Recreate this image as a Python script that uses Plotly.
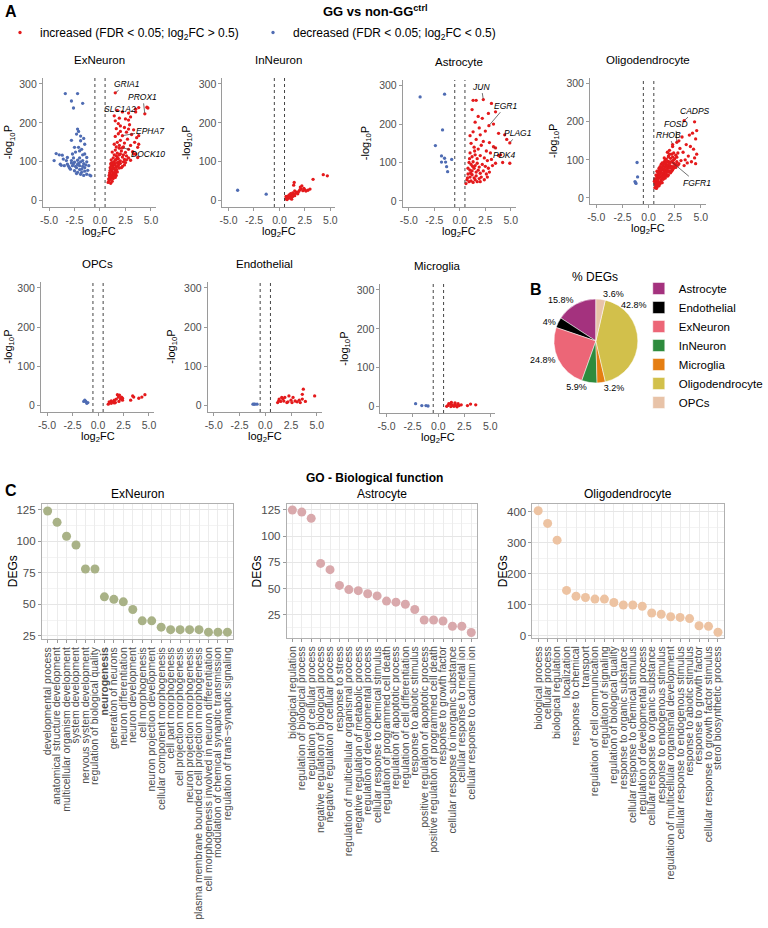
import plotly.graph_objects as go

W, H = 768, 928
FONT = "Arial, Liberation Sans, Helvetica, sans-serif"

# ---------------- DATA ----------------
# Panel A: volcano points (log2FC, -log10P)
ex_up = [(1.05,45),(0.8,47),(1.2,50),(0.9,52),(1.0,55),(1.1,58),(0.95,60),(0.85,56),(1.15,63),(1.3,57),
         (1.25,62),(0.9,65),(1.6,65),(1.3,68),(1.0,70),(1.4,72),(1.7,74),(1.2,75),(1.5,78),(1.0,78),(1.15,80),
         (1.45,66),(1.55,72),(1.05,67),(1.35,85),(1.25,92),(1.45,96),(1.65,80),(1.75,90),(1.85,100),(1.15,98),
         (0.95,72),(1.5,60),(1.2,82),(1.6,106),(1.9,95),(2.1,85),(2.3,100),(2.5,98),(1.7,112),(2.0,120),(2.3,118),
         (1.4,82),(1.9,84),(1.0,85),(1.6,86),(1.2,88),(2.2,88),(1.1,90),(1.8,90),(1.5,92),(2.4,92),(1.3,95),
         (1.05,95),(2.0,96),(1.7,98),(1.35,100),(2.0,102),(1.5,104),(3.0,104),(1.1,105),(2.4,106),(1.8,108),
         (1.3,110),(2.8,110),(2.2,112),(1.6,115),(2.6,115),(1.4,118),(1.9,118),(3.3,120),(3.7,111),(2.6,105),
         (3.5,120),(1.7,122),(2.5,124),(1.2,125),(3.2,126),(2.1,128),(1.5,130),(2.8,132),(1.9,135),(2.2,136),
         (2.3,138),(1.6,138),(3.7,137),(3.0,142),(1.9,142),(1.4,145),(3.8,145),(2.4,148),(1.7,150),(3.4,150),
         (2.0,155),(2.7,158),(3.6,162),(1.5,165),(2.2,167),(3.8,167),(3.1,170),(1.8,172),(2.6,176),(2.0,178),
         (3.3,182),(2.8,184),(1.6,185),(2.4,188),(2.0,192),(2.9,195),(1.8,198),(1.5,205),(2.8,207),(2.5,210),
         (1.9,212),(3.0,215),(1.4,218),(4.4,223),(2.8,225),(2.2,228),(3.5,228),(1.7,232),(3.5,235),(3.8,239),
         (4.7,238),(4.6,240),(1.5,277)]
ex_dn = [(-3.4,275),(-2.2,275),(-2.8,256),(-2.6,238),(-1.7,250),(-2.2,184),(-2.1,178),(-2.3,171),(-2.8,155),
         (-1.9,154),(-4.3,121),(-4.0,118),(-3.7,117),(-4.5,103),(-3.2,111),(-2.7,120),(-2.5,137),(-2.1,137),
         (-2.0,128),(-1.8,132),(-1.5,120),(-2.8,103),(-2.5,99),(-2.2,104),(-1.7,103),(-1.3,111),(-3.9,94),
         (-3.8,91),(-3.5,90),(-3.2,94),(-3.0,85),(-2.7,90),(-2.3,85),(-2.0,90),(-1.8,81),(-1.5,85),(-2.5,77),
         (-2.2,73),(-1.8,73),(-1.3,68),(-1.0,66),(-2.9,81),(-3.3,103),(-3.6,107),(-1.5,145),(-1.9,166),
         (-2.6,95),(-2.4,88),(-2.1,96),(-1.9,100),(-1.6,95),(-1.4,92),(-1.2,78),(-2.0,80),(-2.3,70),(-1.7,88),
         (-1.1,90),(-1.5,76),(-1.9,68),(-2.6,110),(-2.4,125),(-1.6,160),(-2.0,110),(-1.3,100),(-0.9,64),
         (-1.7,118),(-2.2,93),(-1.6,65),(-2.8,97),(-3.1,89)]
in_up = [(0.6,5),(0.7,8),(0.8,6),(0.9,10),(1.0,7),(1.0,12),(1.1,9),(1.2,14),(1.3,11),(1.4,16),(1.5,13),
         (0.75,3),(0.85,12),(1.1,18),(1.3,20),(1.6,19),(1.7,22),(1.5,25),(1.9,24),(2.0,28),(2.1,30),(2.2,38),
         (2.3,26),(2.4,32),(2.5,28),(2.6,25),(2.8,27),(3.0,30),(1.45,47),(1.4,40),(3.3,55),(4.3,67),(4.7,64),
         (1.2,4),(0.95,15),(2.05,35),(1.8,18),(0.65,11)]
in_dn = [(-4.1,27),(-1.3,17)]
as_up = [(1.3,262),(1.6,262),(2.3,264),(3.1,254),(1.2,238),(2.8,228),(3.5,232),(1.8,220),(2.2,215),(1.5,205),
         (2.85,196),(3.3,200),(1.9,190),(2.5,182),(1.3,180),(1.0,170),(2.0,172),(3.8,176),(4.4,172),(4.9,151),
         (4.6,160),(1.6,160),(2.3,155),(2.9,152),(3.3,141),(3.5,138),(1.1,150),(1.4,140),(1.8,135),(2.1,145),
         (2.6,130),(3.0,125),(3.8,118),(4.2,100),(4.9,98),(4.0,120),(1.0,125),(1.2,115),(1.5,120),(1.7,110),
         (2.0,118),(2.4,112),(2.7,105),(3.1,108),(3.5,98),(0.9,100),(1.1,95),(1.3,102),(1.5,92),(1.7,98),
         (1.9,88),(2.2,95),(2.5,90),(2.8,85),(3.2,92),(0.8,85),(1.0,80),(1.2,78),(1.4,85),(1.6,75),(1.8,80),
         (2.0,72),(2.3,78),(2.6,70),(0.8,70),(1.0,62),(1.2,68),(1.4,60),(1.6,65),(1.9,58),(2.1,62),(2.4,55),
         (0.7,55),(0.9,50),(1.1,52),(1.3,48),(0.6,45),(1.5,55),(1.7,50),(2.0,50),(0.75,60),(1.05,72),(2.7,62),
         (2.9,75),(1.25,90),(0.95,110),(1.45,130)]
as_dn = [(-3.9,271),(-1.5,278),(-1.7,185),(-2.4,144),(-1.8,117),(-1.5,111),(-0.8,108),(-1.8,101),(-1.4,101),
         (-1.3,89),(-1.2,76)]
ol_up = [(4.4,200),(3.4,203),(4.6,177),(4.2,170),(3.9,165),(4.5,155),(3.2,160),(2.9,150),(2.7,146),(2.3,140),
         (3.6,140),(4.0,135),(4.3,128),(4.6,115),(4.4,105),(3.8,110),(3.3,120),(3.0,130),(2.3,135),(2.0,125),
         (4.1,95),(4.5,90),(3.7,92),(3.5,100),(2.8,118),(2.6,112),(2.2,115),(1.9,108),(3.1,98),(3.4,85),
         (2.9,90),(2.4,100),(1.6,100),(1.8,95),
         (0.6,27),(0.7,30),(0.8,28),(0.9,33),(0.65,35),(0.75,25),(1.0,32),
         (0.6,40),(0.7,42),(0.8,38),(0.9,44),(1.0,40),(1.1,37),(1.2,43),(1.3,40),(0.55,44),
         (0.6,50),(0.7,48),(0.8,53),(0.9,47),(1.0,52),(1.1,55),(1.2,48),(1.3,51),(1.4,49),(1.5,53),(1.6,52),
         (0.7,60),(0.8,57),(0.9,63),(1.0,58),(1.1,62),(1.2,65),(1.3,57),(1.4,60),(1.5,63),(1.6,58),(1.7,62),
         (1.8,57),(1.9,60),
         (0.8,70),(0.9,67),(1.0,73),(1.1,68),(1.2,72),(1.3,66),(1.4,74),(1.5,69),(1.6,72),(1.7,67),(1.8,73),
         (1.9,68),(2.0,71),(2.1,66),(2.2,70),(2.3,74),
         (1.0,78),(1.1,82),(1.2,76),(1.3,80),(1.4,84),(1.5,77),(1.6,81),(1.7,85),(1.8,78),(1.9,83),(2.0,79),
         (2.1,84),(2.2,77),(2.3,82),(2.4,78),(2.5,84),(2.6,80),
         (1.2,88),(1.3,92),(1.4,90),(1.5,95),(1.6,88),(1.7,93),(1.8,87),(1.9,96),(2.0,90),(2.1,94),(2.2,95),
         (2.3,97),(2.4,91),(2.6,89),(2.7,95),(2.8,86),
         (1.5,105),(1.7,102),(1.9,110),(2.1,104),(2.3,108),(2.5,103),(2.7,107),(2.0,115),(2.4,118),(1.8,120)]
ol_dn = [(-1.1,93),(-1.05,55),(-1.3,43),(-1.2,38),(-1.25,40)]
op_up = [(1.0,4),(1.2,8),(1.3,12),(1.5,10),(1.6,14),(1.8,17),(2.0,22),(2.05,11),(2.2,17),(2.3,22),(2.4,14),
         (1.9,28),(2.1,27),(3.2,14),(3.4,25),(3.5,22),(4.0,19),(4.3,22),(4.6,28),(1.3,6),(1.6,7),(1.7,8),
         (2.4,19),(1.1,10)]
op_dn = [(-1.4,11),(-1.2,11),(-1.1,6),(-1.3,14),(-1.0,8)]
en_up = [(1.2,8),(1.35,17),(1.6,21),(1.8,12),(2.1,8),(2.3,25),(2.5,14),(2.7,21),(2.9,12),(3.3,14),(3.6,17),
         (3.7,42),(3.6,29),(3.9,11),(4.8,25),(1.5,11),(1.7,18),(2.2,10),(2.6,8),(3.1,10),(3.4,8),(1.9,21),
         (1.3,12)]
en_dn = [(-1.2,4),(-1.0,4),(-0.8,4),(-1.1,4)]
mi_up = [(0.9,3),(1.1,7),(1.25,11),(1.4,3),(1.6,7),(1.7,3),(1.9,8),(2.0,3),(2.2,5),(1.3,5),(1.2,0.5),(1.5,1),
         (1.8,0),(0.8,1),(2.8,3),(3.1,7),(3.6,5),(1.6,10),(1.0,8)]
mi_dn = [(-2.2,8),(-1.6,3),(-1.2,3),(-1.0,2)]

# labelled genes: (gene, log2FC, -log10P)
ex_genes = [("GRIA1",1.5,277),("PROX1",4.4,223),("SLC1A2",1.4,218),("EPHA7",2.2,167),("DOCK10",2.2,136)]
as_genes = [("JUN",2.3,264),("EGR1",2.85,196),("PLAG1",4.9,151),("PDK4",3.3,141)]
ol_genes = [("CADPS",3.4,203),("FOSD",2.7,146),("RHOB",2.3,140),("FGFR1",2.2,95)]

# Panel B: % DEGs
pie_labels = ["Astrocyte","Endothelial","ExNeuron","InNeuron","Microglia","Oligodendrocyte","OPCs"]
pie_values = [15.8, 4, 24.8, 5.9, 3.2, 42.8, 3.6]

# Panel C: GO terms
ex_terms = ["developmental process","anatomical structure development","multicellular organism development",
            "system development","nervous system development","regulation of biological quality","neurogenesis",
            "generation of neurons","neuron differentiation","neuron development","cell morphogenesis",
            "neuron projection development","cellular component morphogenesis","cell part morphogenesis",
            "cell projection morphogenesis","neuron projection morphogenesis",
            "plasma membrane bounded cell projection morphogenesis",
            "cell morphogenesis involved in neuron differentiation",
            "modulation of chemical synaptic transmission","regulation of trans\u2212synaptic signaling"]
ex_degs = [124,115,104,97,78,78,56,54,52,46,37,37,32,30,30,30,30,28,28,28]
as_terms = ["biological regulation","regulation of biological process","regulation of cellular process",
            "negative regulation of biological process","negative regulation of cellular process",
            "response to stress","regulation of multicellular organismal process",
            "negative regulation of metabolic process","regulation of developmental process",
            "cellular response to chemical stimulus","regulation of programmed cell death",
            "regulation of apoptotic process","regulation of cell differentiation","response to abiotic stimulus",
            "positive regulation of apoptotic process","positive regulation of programmed cell death",
            "response to growth factor","cellular response to inorganic substance",
            "cellular response to metal ion","cellular response to cadmium ion"]
as_degs = [125,123,117,74,68,53,49,48,45,43,38,37,35,30,20,20,19,14,14,8]
ol_terms = ["biological process","cellular process","biological regulation","localization",
            "response to chemical","transport","regulation of cell communication","regulation of signaling",
            "regulation of biological quality","response to organic substance",
            "cellular response to chemical stimulus","regulation of developmental process",
            "cellular response to organic substance","response to endogenous stimulus",
            "regulation of multicellular organismal development","cellular response to endogenous stimulus",
            "response to abiotic stimulus","response to growth factor",
            "cellular response to growth factor stimulus","sterol biosynthetic process"]
ol_degs = [403,362,308,146,127,123,118,118,107,99,99,95,73,69,61,59,55,32,30,11]

# ---------------- STYLE ----------------
RED, BLUE = "#E41A1C", "#4F6CB3"
pie_colors = ["#A4327E", "#000000", "#EC6677", "#2E8B3D", "#E57E12", "#D2C04B", "#E8C3A8"]
GO_COLORS = ["#A9B287", "#D9A9AC", "#EDC3A2"]
AX = "#9a9a9a"
TICK = "#4d4d4d"

def xdom(a, b):
    return [a / W, b / W]

def ydom(top, bot):
    return [1 - bot / H, 1 - top / H]

def px(x):
    return x / W

def py(y):
    return 1 - y / H

fig = go.Figure()
layout = dict()
annotations = []
shapes = []

def text(x, y, s, size=12, color="black", angle=0, bold=False, xanchor="center"):
    annotations.append(dict(x=px(x), y=py(y), xref="paper", yref="paper", text=(f"<b>{s}</b>" if bold else s),
                            showarrow=False, font=dict(size=size, color=color, family=FONT),
                            textangle=angle, xanchor=xanchor, yanchor="middle"))

volcano = [
    ("ExNeuron", ex_up, ex_dn, (44, 160, 78, 207), ex_genes,
     [(12, -9), (-2, -17), (6, -7), (28, -5), (26, 6)]),
    ("InNeuron", in_up, in_dn, (228, 344, 78, 207), [], []),
    ("Astrocyte", as_up, as_dn, (413, 529, 80, 207), as_genes,
     [(-2, -13), (17, -20), (8, -10), (11, 8)]),
    ("Oligodendrocyte", ol_up, ol_dn, (605, 724, 78, 204), ol_genes,
     [(11, -10), (-1, -18), (-4, -10), (25, 21)]),
    ("OPCs", op_up, op_dn, (42, 158, 282, 412), [], []),
    ("Endothelial", en_up, en_dn, (213, 330, 282, 412), [], []),
    ("Microglia", mi_up, mi_dn, (390, 508, 284, 413), [], []),
]

for i, (name, up, dn, box, genes, offs) in enumerate(volcano):
    k = i + 1
    s = "" if k == 1 else str(k)
    l, r, t, b = box
    for pts, col, lab in ((up, RED, "increased (FDR &lt; 0.05; log<sub>2</sub>FC &gt; 0.5)"),
                          (dn, BLUE, "decreased (FDR &lt; 0.05; log<sub>2</sub>FC &lt; 0.5)")):
        fig.add_trace(go.Scatter(x=[p[0] for p in pts], y=[p[1] for p in pts], mode="markers",
                                 marker=dict(size=3.3, color=col), xaxis="x" + s, yaxis="y" + s,
                                 name=lab, legendgroup=lab, showlegend=(k == 1), legend="legend"))
    layout["xaxis" + s] = dict(domain=xdom(l, r), anchor="y" + s, range=[-5.6, 5.5],
                               tickvals=[-5, -2.5, 0, 2.5, 5], ticktext=["-5.0", "-2.5", "0.0", "2.5", "5.0"],
                               showline=True, linecolor=AX, linewidth=1, ticks="outside", ticklen=3,
                               tickcolor=AX, showgrid=False, zeroline=False,
                               tickfont=dict(size=10.5, color=TICK, family=FONT))
    layout["yaxis" + s] = dict(domain=ydom(t, b), anchor="x" + s, range=[-16, 315],
                               tickvals=[0, 100, 200, 300], showline=True, linecolor=AX, linewidth=1,
                               ticks="outside", ticklen=3, tickcolor=AX, showgrid=False, zeroline=False,
                               tickfont=dict(size=10.5, color=TICK, family=FONT))
    for xv in (-0.5, 0.5):
        shapes.append(dict(type="line", xref="x" + s, yref=f"y{s} domain", x0=xv, x1=xv, y0=0, y1=1,
                           line=dict(color="#444444", width=1, dash="3px,3px")))
    text((l + r) / 2, t - 18, name, size=11.5)
    text((l + r) / 2, b + 25, "log<sub>2</sub>FC", size=11)
    text(max(l - 37, 9), (t + b) / 2, "-log<sub>10</sub>P", size=11, angle=-90)
    for (g, gx, gy), (ax, ay) in zip(genes, offs):
        annotations.append(dict(x=gx, y=gy, xref="x" + s, yref="y" + s, text=f"<i>{g}</i>", showarrow=True,
                                arrowhead=0, arrowwidth=0.7, arrowcolor="#333333", ax=ax, ay=ay,
                                font=dict(size=8.5, color="black", family=FONT), standoff=1))

# ---- Panel B: pie ----
# counterclockwise pies in plotly end their first slice at 12 o'clock; shift so it starts there instead
first_angle = 360.0 * pie_values[0] / sum(pie_values)
big = pie_labels.index("Oligodendrocyte")
text_pos = ["none" if i == big else "outside" for i in range(len(pie_labels))]
fig.add_trace(go.Pie(labels=pie_labels, values=pie_values, sort=False, direction="counterclockwise",
                     rotation=-first_angle, marker=dict(colors=pie_colors, line=dict(color="white", width=0.5)),
                     textposition=text_pos, texttemplate="%{value}%",
                     textfont=dict(size=9, color="black", family=FONT),
                     domain=dict(x=xdom(568, 654), y=ydom(298, 384)), legend="legend2", showlegend=True,
                     hoverinfo="label+value"))
# the large slice's label sits at its upper edge (as in the original, clear of the legend)
text(650, 305, f"{pie_values[big]}%", size=9)

# ---- Panel C: GO dot plots ----
go_panels = [
    ("ExNeuron", ex_terms, ex_degs, (43, 239, 504, 639), [22.6, 129.5], 25),
    ("Astrocyte", as_terms, as_degs, (294, 489, 504, 638), [2.8, 130.7], 25),
    ("Oligodendrocyte", ol_terms, ol_degs, (546, 742, 504, 638), [-7.5, 424.7], 100),
]
for j, (name, terms, degs, box, yr, dt) in enumerate(go_panels):
    k = 8 + j
    s = str(k)
    l, r, t, b = box
    fig.add_trace(go.Scatter(x=terms, y=degs, mode="markers", marker=dict(size=9, color=GO_COLORS[j]),
                             xaxis="x" + s, yaxis="y" + s, showlegend=False))
    ticktext = [f"<b>{tt}</b>" if tt == "neurogenesis" else tt for tt in terms]
    layout["xaxis" + s] = dict(domain=xdom(l, r), anchor="y" + s, type="category",
                               categoryorder="array", categoryarray=terms, range=[-0.6, len(terms) - 0.4],
                               tickmode="array", tickvals=terms, ticktext=ticktext, tickangle=-90,
                               showline=True, mirror=True, linecolor="#b0b0b0", linewidth=1,
                               ticks="outside", ticklen=3, tickcolor="#9a9a9a", showgrid=True,
                               gridcolor="#ececec", gridwidth=0.8, zeroline=False,
                               tickfont=dict(size=10.5, color=TICK, family=FONT))
    layout["yaxis" + s] = dict(domain=ydom(t, b), anchor="x" + s, range=yr, tick0=0, dtick=dt,
                               showline=True, mirror=True, linecolor="#b0b0b0", linewidth=1,
                               ticks="outside", ticklen=3, tickcolor="#9a9a9a", showgrid=True,
                               gridcolor="#e6e6e6", gridwidth=0.8, zeroline=False,
                               minor=dict(dtick=dt / 2, tick0=0, showgrid=True, gridcolor="#f3f3f3",
                                          gridwidth=0.6),
                               tickfont=dict(size=11.5, color=TICK, family=FONT))
    text((l + r) / 2, t - 10, name, size=12)
    text(l - 30, (t + b) / 2, "DEGs", size=12, angle=-90)

# ---- Headings ----
text(3, 11, "A", size=16, bold=True, xanchor="left")
text(541, 289, "B", size=16, bold=True, xanchor="left")
text(3, 491, "C", size=16, bold=True, xanchor="left")
text(384, 11, "GG vs non-GG<sup>ctrl</sup>", size=13, bold=True)
text(610, 277, "% DEGs", size=12)
text(384, 478, "GO - Biological function", size=12, bold=True)

layout.update(
    width=W, height=H, margin=dict(l=0, r=0, t=0, b=0), template="none",
    paper_bgcolor="white", plot_bgcolor="white", font=dict(family=FONT, color="black"),
    annotations=annotations, shapes=shapes,
    legend=dict(orientation="h", x=0.0, y=py(18), xanchor="left", yanchor="top",
                font=dict(size=12, family=FONT, color="black"), bgcolor="rgba(0,0,0,0)",
                entrywidth=208, entrywidthmode="pixels"),
    legend2=dict(x=px(655), y=py(274), xanchor="left", yanchor="top", tracegroupgap=0,
                 font=dict(size=11.5, family=FONT, color="black"), bgcolor="rgba(0,0,0,0)"),
)
fig.update_layout(**layout)
fig.write_html("out.html")
